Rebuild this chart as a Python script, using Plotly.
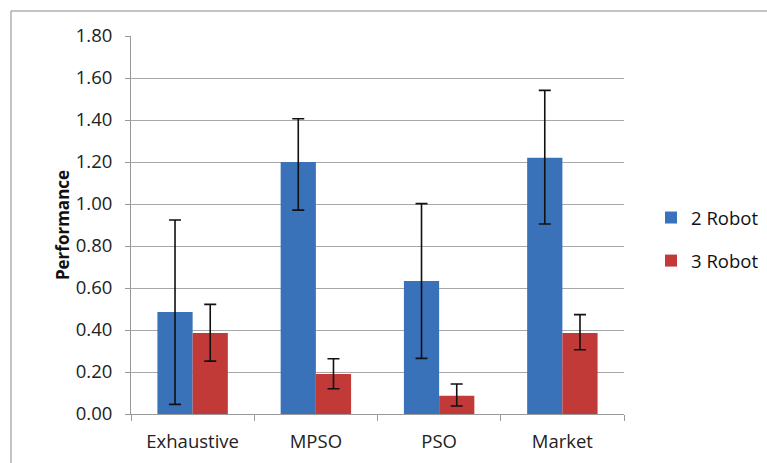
import plotly.graph_objects as go

categories = ["Exhaustive", "MPSO", "PSO", "Market"]
robot2 = [0.486, 1.200, 0.633, 1.220]
robot2_err_plus = [0.438, 0.206, 0.369, 0.321]
robot2_err_minus = [0.440, 0.229, 0.368, 0.315]
robot3 = [0.386, 0.190, 0.087, 0.386]
robot3_err_plus = [0.136, 0.073, 0.056, 0.087]
robot3_err_minus = [0.134, 0.070, 0.049, 0.080]
y_ticks = [0.0, 0.2, 0.4, 0.6, 0.8, 1.0, 1.2, 1.4, 1.6, 1.8]

FONT = "Open Sans"
W, H = 767, 463
L, R, T, B = 131, 143, 36, 49
pw, ph = W - L - R, H - T - B

def px_x(x):
    return (x - L) / pw

def px_y(y):
    return (H - B - y) / ph

fig = go.Figure()
fig.add_trace(go.Bar(
    x=categories, y=robot2, name="2 Robot", legendgroup="g2",
    marker=dict(color="#3A72BA", line=dict(width=0)),
    error_y=dict(type="data", symmetric=False, array=robot2_err_plus,
                 arrayminus=robot2_err_minus, color="#111111", thickness=1.6, width=6),
))
fig.add_trace(go.Bar(
    x=categories, y=robot3, name="3 Robot", legendgroup="g3",
    marker=dict(color="#C23A38", line=dict(width=0)),
    error_y=dict(type="data", symmetric=False, array=robot3_err_plus,
                 arrayminus=robot3_err_minus, color="#111111", thickness=1.6, width=6),
))

fig.update_layout(
    width=W, height=H,
    margin=dict(l=L, r=R, t=T, b=B, autoexpand=False),
    paper_bgcolor="white", plot_bgcolor="white",
    barmode="group", bargap=0.4286, bargroupgap=0,
    font=dict(family=FONT, size=18, color="#222222"),
    legend=dict(x=px_x(651), y=px_y(239.5), xanchor="left", yanchor="middle",
                font=dict(family=FONT, size=18.5, color="#111111"),
                bgcolor="rgba(0,0,0,0)", itemwidth=30, tracegroupgap=16),
    xaxis=dict(
        type="category", tickson="boundaries", ticks="outside", ticklen=6,
        tickcolor="#999999", showline=True, linecolor="#999999", linewidth=1,
        showgrid=False, tickfont=dict(family=FONT, size=18.5, color="#222222"),
        ticklabelstandoff=11,
    ),
    yaxis=dict(
        range=[0, 1.8], tickvals=y_ticks, tickformat=".2f",
        ticks="outside", ticklen=5, tickcolor="#999999",
        showline=True, linecolor="#999999", linewidth=1,
        showgrid=True, gridcolor="#A8A8A8", gridwidth=1,
        zeroline=False, tickfont=dict(family=FONT, size=18.5, color="#222222"),
        ticklabelstandoff=9,
        title=dict(text="<b>Performance</b>", font=dict(family=FONT, size=17, color="#111111"),
                   standoff=1),
    ),
    shapes=[dict(type="rect", xref="paper", yref="paper",
                 x0=px_x(11), x1=px_x(900), y0=px_y(600), y1=px_y(11),
                 line=dict(color="#8A8A8A", width=1), fillcolor="rgba(0,0,0,0)", layer="below")],
)

fig.write_html("out.html", config={"displayModeBar": False},
               post_script="document.body.style.margin='0';")
